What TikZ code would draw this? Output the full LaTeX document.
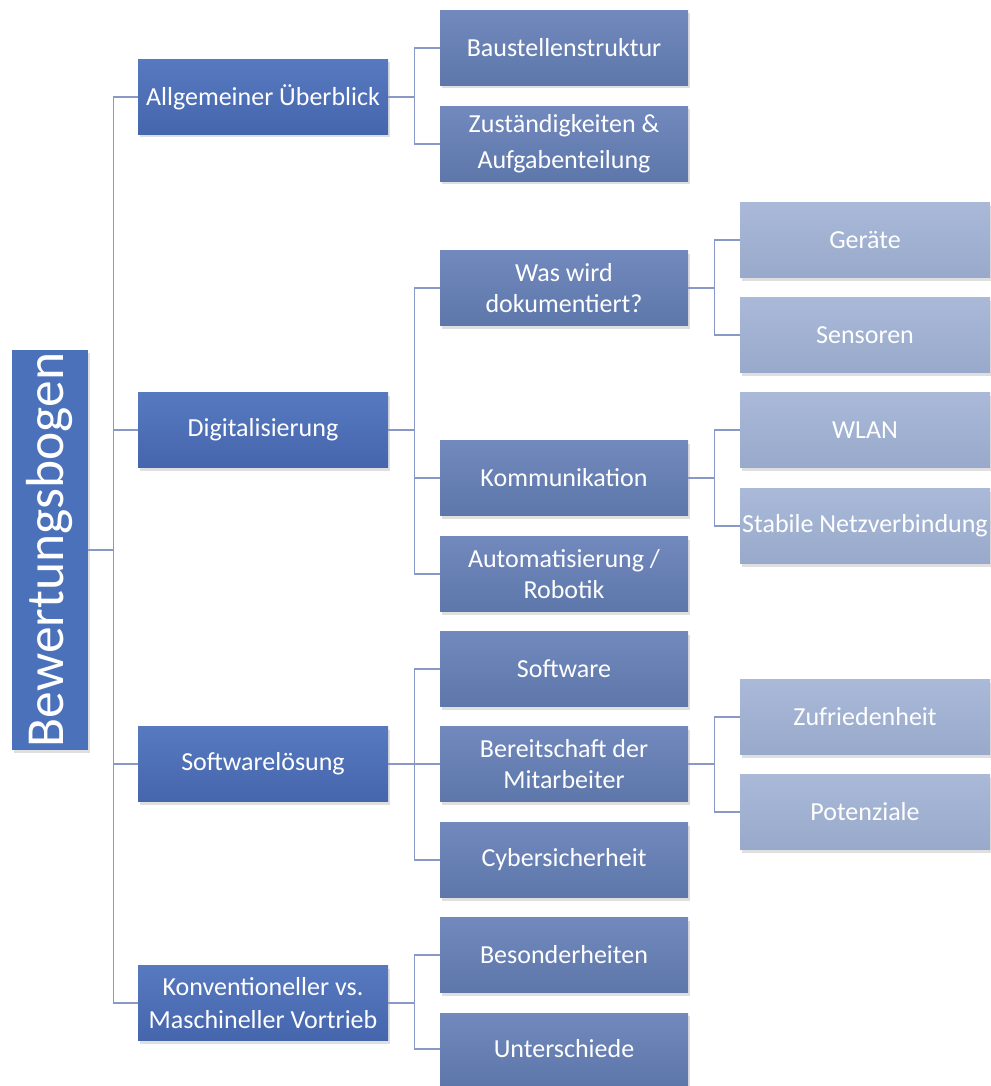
\documentclass[tikz,border=0pt]{standalone}
\usepackage{fontspec}
\setmainfont{Carlito}
\usetikzlibrary{shadows}
\definecolor{lineC}{HTML}{8A98C8}
\definecolor{Atop}{HTML}{5779C0}
\definecolor{Abot}{HTML}{4566AC}
\definecolor{Btop}{HTML}{7189BD}
\definecolor{Bbot}{HTML}{5E77AB}
\definecolor{Ctop}{HTML}{AAB9D8}
\definecolor{Cbot}{HTML}{98A9CB}
\definecolor{Rfill}{HTML}{4A71BA}
\begin{document}
\begin{tikzpicture}[x=1pt,y=-1pt,
  base/.style={rectangle, text=white, align=center, inner sep=0pt,
    drop shadow={opacity=0.25, shadow xshift=2pt, shadow yshift=-3pt}},
  rootbox/.style={base, fill=Rfill, rotate=90, minimum width=400pt, minimum height=76pt,
    font=\fontsize{53.5}{57}\selectfont},
  lvA/.style={base, minimum width=250pt, minimum height=75pt, top color=Atop, bottom color=Abot,
    font=\fontsize{26}{33}\selectfont},
  lvB/.style={base, minimum width=248pt, minimum height=75pt, top color=Btop, bottom color=Bbot,
    font=\fontsize{26}{31}\selectfont},
  lvC/.style={base, minimum width=250pt, minimum height=75pt, top color=Ctop, bottom color=Cbot,
    font=\fontsize{26}{31}\selectfont},
  conn/.style={draw=lineC, line width=1.3pt}
]
\useasboundingbox (0,0) rectangle (990,1086);

% root
\node[rootbox] (root) at (50,550) {Bewertungsbogen};

% level 1
\node[lvA] (a1) at (263,97) {Allgemeiner Überblick};
\node[lvA] (a2) at (263,430) {Digitalisierung};
\node[lvA] (a3) at (263,764) {Softwarelösung};
\node[lvA] (a4) at (263,1003) {Konventioneller vs.\\Maschineller Vortrieb};

% level 2
\node[lvB] (b1) at (564,48) {Baustellenstruktur};
\node[lvB, font=\fontsize{26}{36}\selectfont] (b2) at (564,144) {Zuständigkeiten \&\\Aufgabenteilung};
\node[lvB] (b3) at (564,288) {Was wird\\dokumentiert?};
\node[lvB] (b4) at (564,478) {Kommunikation};
\node[lvB] (b5) at (564,574) {Automatisierung /\\Robotik};
\node[lvB] (b6) at (564,669) {Software};
\node[lvB] (b7) at (564,764) {Bereitschaft der\\Mitarbeiter};
\node[lvB] (b8) at (564,860) {Cybersicherheit};
\node[lvB] (b9) at (564,955) {Besonderheiten};
\node[lvB, minimum height=72pt] (b10) at (564,1049) {Unterschiede};

% level 3
\node[lvC] (c1) at (865,240) {Geräte};
\node[lvC] (c2) at (865,335) {Sensoren};
\node[lvC] (c3) at (865,430) {WLAN};
\node[lvC] (c4) at (865,526) {Stabile Netzverbindung};
\node[lvC] (c5) at (865,717) {Zufriedenheit};
\node[lvC] (c6) at (865,812) {Potenziale};

% connectors root -> level 1
\foreach \t in {a1,a2,a3,a4}
  \draw[conn] (root.south) -- ++(25,0) |- (\t.west);

% level 1 -> level 2
\foreach \t in {b1,b2}
  \draw[conn] (a1.east) -- ++(26,0) |- (\t.west);
\foreach \t in {b3,b4,b5}
  \draw[conn] (a2.east) -- ++(26,0) |- (\t.west);
\foreach \t in {b6,b7,b8}
  \draw[conn] (a3.east) -- ++(26,0) |- (\t.west);
\foreach \t in {b9,b10}
  \draw[conn] (a4.east) -- ++(26,0) |- (\t.west);

% level 2 -> level 3
\foreach \t in {c1,c2}
  \draw[conn] (b3.east) -- ++(26,0) |- (\t.west);
\foreach \t in {c3,c4}
  \draw[conn] (b4.east) -- ++(26,0) |- (\t.west);
\foreach \t in {c5,c6}
  \draw[conn] (b7.east) -- ++(26,0) |- (\t.west);
\end{tikzpicture}
\end{document}
